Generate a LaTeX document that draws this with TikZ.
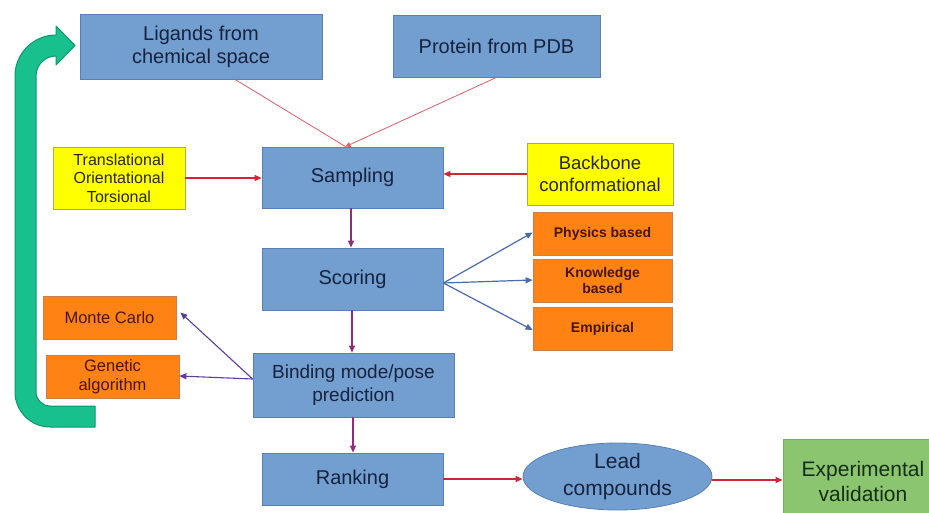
\documentclass[tikz,border=0pt]{standalone}
\usepackage{fontspec}
\setmainfont{Liberation Sans}
\usetikzlibrary{arrows.meta,shapes.geometric}

\definecolor{boxblue}{RGB}{114,159,207}
\definecolor{boxblueline}{RGB}{88,128,182}
\definecolor{navy}{RGB}{22,34,62}
\definecolor{lemon}{RGB}{255,255,0}
\definecolor{lemonline}{RGB}{170,170,95}
\definecolor{tangerine}{RGB}{255,130,20}
\definecolor{tangerineline}{RGB}{205,125,70}
\definecolor{rust}{RGB}{70,22,5}
\definecolor{leaf}{RGB}{140,197,112}
\definecolor{leafline}{RGB}{125,170,105}
\definecolor{forest}{RGB}{22,45,22}
\definecolor{loopgreen}{RGB}{24,192,142}
\definecolor{loopgreenline}{RGB}{14,150,108}
\definecolor{redarrow}{RGB}{210,35,55}
\definecolor{pinkline}{RGB}{218,95,105}
\definecolor{plum}{RGB}{145,45,125}
\definecolor{steel}{RGB}{72,108,168}
\definecolor{indigoarrow}{RGB}{92,62,155}

\tikzset{
  bluebox/.style={draw=boxblueline, line width=0.8pt, fill=boxblue, text=navy,
    inner sep=0pt, align=center, font=\fontsize{20}{23}\selectfont},
  yellowbox/.style={draw=lemonline, line width=0.8pt, fill=lemon, text=black!85,
    inner sep=0pt, align=center},
  orangebox/.style={draw=tangerineline, line width=0.8pt, fill=tangerine, text=rust,
    inner sep=0pt, align=center},
  greenbox/.style={draw=leafline, line width=0.8pt, fill=leaf, text=forest,
    inner sep=0pt, align=center, font=\fontsize{21}{25}\selectfont},
  tip/.style={-{Triangle[length=7pt,width=6pt]}},
  redflow/.style={tip, draw=redarrow, line width=1.1pt},
  pinkflow/.style={draw=pinkline, line width=0.8pt},
  plumflow/.style={tip, draw=plum, line width=1.1pt},
  steelflow/.style={tip, draw=steel, line width=1.2pt},
  indigoflow/.style={tip, draw=indigoarrow, line width=1.1pt},
}

\begin{document}
\begin{tikzpicture}[x=1pt,y=-1pt]
\useasboundingbox (0,0) rectangle (929,513);
\clip (0,0) rectangle (929,513);
\fill[white] (0,0) rectangle (929,513);

% feedback loop arrow
\draw[fill=loopgreen, draw=loopgreenline, line width=1pt, line join=round]
  (36,392) -- (36,76) .. controls (36,65) and (45,56) .. (56,56)
  -- (56,65) -- (75,45.5) -- (56,26) -- (56,35)
  .. controls (33.4,35) and (15,53.4) .. (15,76)
  -- (15,392) .. controls (15,411.3) and (30.7,427) .. (50,427)
  -- (95,427) -- (95,406) -- (50,406)
  .. controls (42.3,406) and (36,399.7) .. (36,392) -- cycle;

% inputs
\node[bluebox, minimum width=242pt, minimum height=65pt] (lig) at (201,46.5)
  {Ligands from\\chemical space};
\node[bluebox, minimum width=207pt, minimum height=62pt] (prot) at (496.5,46)
  {Protein from PDB};

% main pipeline
\node[bluebox, minimum width=181pt, minimum height=61pt] (samp) at (352.5,177.5)
  {Sampling};
\node[bluebox, minimum width=181pt, minimum height=62pt] (scor) at (352.5,279)
  {Scoring};
\node[bluebox, minimum width=201pt, minimum height=64pt,
  font=\fontsize{19}{22.5}\selectfont] (bind) at (353.5,385)
  {Binding mode/pose\\prediction};
\node[bluebox, minimum width=181pt, minimum height=52pt] (rank) at (352.5,479)
  {Ranking};
\node[ellipse, draw=boxblueline, line width=0.8pt, fill=boxblue, text=navy,
  inner sep=0pt, align=center, minimum width=189pt, minimum height=67pt,
  font=\fontsize{21}{27}\selectfont] (lead) at (617.5,476.5)
  {Lead\\compounds};
\node[greenbox, minimum width=160pt, minimum height=84pt] (exp) at (863,481)
  {Experimental\\validation};

% degrees of freedom
\node[yellowbox, minimum width=132pt, minimum height=62pt,
  font=\fontsize{16}{18.3}\selectfont] (trans) at (119,178)
  {Translational\\Orientational\\Torsional};
\node[yellowbox, minimum width=146pt, minimum height=62pt,
  font=\fontsize{18.5}{22}\selectfont] (back) at (600,174)
  {Backbone\\conformational};

% scoring functions
\node[orangebox, minimum width=139pt, minimum height=43pt,
  font=\fontsize{14}{15.5}\selectfont\bfseries] (phys) at (602.5,233.5)
  {Physics based};
\node[orangebox, minimum width=139pt, minimum height=43pt,
  font=\fontsize{14}{15.5}\selectfont\bfseries] (know) at (602.5,280.5)
  {Knowledge\\based};
\node[orangebox, minimum width=139pt, minimum height=43pt,
  font=\fontsize{14}{15.5}\selectfont\bfseries] (emp) at (602.5,328.5)
  {Empirical};

% search algorithms
\node[orangebox, minimum width=133pt, minimum height=43pt,
  font=\fontsize{16.5}{19}\selectfont] (mc) at (109.5,317.5)
  {Monte Carlo};
\node[orangebox, minimum width=133pt, minimum height=43pt,
  font=\fontsize{16.5}{19}\selectfont] (ga) at (112.5,376.5)
  {Genetic\\algorithm};

% connectors
\coordinate (join) at ([xshift=-7pt]samp.north);
\coordinate (scorout) at ([yshift=-4pt]scor.east);
\coordinate (bindout) at ([yshift=6pt]bind.west);

\draw[pinkflow] ([xshift=34pt]lig.south) -- (join);
\draw[pinkflow, -{Triangle[length=5pt,width=5pt]}] (prot.south) -- (join);

\draw[redflow] (trans.east) -- (trans.east -| samp.west);
\draw[redflow] (back.west) -- (back.west -| samp.east);

\draw[plumflow] ([xshift=-1.5pt]samp.south) -- ([xshift=-1.5pt]scor.north);
\draw[plumflow] ([xshift=-0.5pt]scor.south) -- ([xshift=-1.5pt]bind.north);
\draw[plumflow] ([xshift=-0.5pt]bind.south) -- ([xshift=0.5pt]rank.north);

\draw[steelflow] (scorout) -- ([yshift=1pt]phys.west);
\draw[steelflow] (scorout) -- ([yshift=0.5pt]know.west);
\draw[steelflow] (scorout) -- ([yshift=-1.5pt]emp.west);

\draw[indigoflow] (bindout) -- ([xshift=4pt,yshift=5pt]mc.east);
\draw[indigoflow] (bindout) -- ([yshift=0.5pt]ga.east);

\draw[redflow] (rank.east) -- (rank.east -| lead.west);
\draw[redflow] ([yshift=-3.5pt]lead.east) -- ([yshift=-3.5pt]lead.east -| exp.west);
\end{tikzpicture}
\end{document}
